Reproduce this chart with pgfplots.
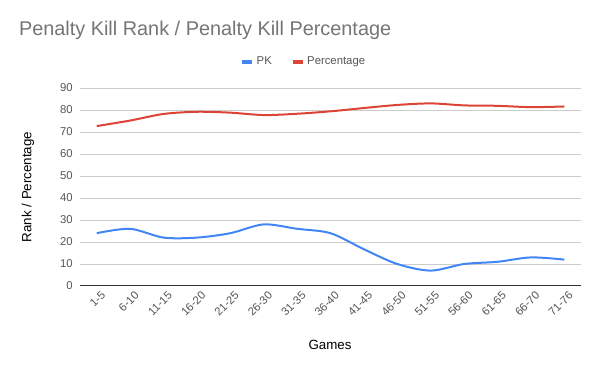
\documentclass[border=0pt]{standalone}
\usepackage{pgfplots}
\pgfplotsset{compat=1.18}
\usepackage{fontspec}
\setmainfont{Liberation Sans}
\definecolor{pkblue}{HTML}{4285F4}
\definecolor{pcred}{HTML}{DB4437}
\definecolor{gridc}{HTML}{CCCCCC}
\definecolor{tickc}{HTML}{555555}
\definecolor{titlec}{HTML}{757575}
\begin{document}
\begin{tikzpicture}
\useasboundingbox (0pt,0pt) rectangle (450pt,278.25pt);
\begin{axis}[
  at={(60pt,63.75pt)}, anchor=south west,
  scale only axis, width=375.75pt, height=148.5pt,
  xmin=-0.5, xmax=14.5, ymin=0, ymax=90,
  xtick={0,...,14},
  xticklabels={1-5,6-10,11-15,16-20,21-25,26-30,31-35,36-40,41-45,46-50,51-55,56-60,61-65,66-70,71-76},
  ytick={0,10,...,90},
  ymajorgrids, grid style={gridc, line width=0.75pt},
  axis x line*=bottom, axis y line*=left,
  x axis line style={draw=black!80, line width=0.75pt, -},
  y axis line style={draw=none},
  tick style={draw=none},
  major tick length=0pt,
  ticklabel style={font=\fontsize{8.5}{10}\selectfont, text=tickc},
  xticklabel style={rotate=45, anchor=north east, xshift=3pt, yshift=-1pt},
  yticklabel style={xshift=-2pt},
  /pgf/number format/assume math mode=true,
  xlabel={Games}, ylabel={Rank / Percentage},
  label style={font=\fontsize{8.5}{10}\selectfont, text=black!85},
  every axis x label/.style={at={(rel axis cs:0.499,-0.298)}, anchor=center},
  every axis y label/.style={at={(rel axis cs:-0.104,0.5)}, rotate=90, anchor=center},
  title={Penalty Kill Rank / Penalty Kill Percentage},
  every axis title/.style={at={(rel axis cs:-0.131,1.293)}, anchor=west, font=\fontsize{14.9}{17}\selectfont, text=titlec},
  legend columns=2,
  legend style={at={(rel axis cs:0.447,1.131)}, anchor=center, draw=none, fill=none,
    font=\fontsize{8.5}{10}\selectfont, text=tickc,
    /tikz/every even column/.append style={column sep=12pt}},
  legend image code/.code={\draw[line width=3pt] (0pt,0pt) -- (7.5pt,0pt);},
]
\addplot[pkblue, line width=1.5pt, smooth, tension=0.5] coordinates {
(0,24) (1,26) (2,22) (3,22) (4,24) (5,28) (6,26) (7,24) (8,16.7) (9,10) (10,7) (11,10) (12,11) (13,13) (14,12)};
\addlegendentry{PK}
\addplot[pcred, line width=1.5pt, smooth, tension=0.5] coordinates {
(0,72.7) (1,75.2) (2,78.2) (3,79.2) (4,78.8) (5,77.7) (6,78.3) (7,79.4) (8,80.9) (9,82.3) (10,83.0) (11,82.1) (12,81.9) (13,81.3) (14,81.6)};
\addlegendentry{Percentage}
\end{axis}
\end{tikzpicture}
\end{document}
